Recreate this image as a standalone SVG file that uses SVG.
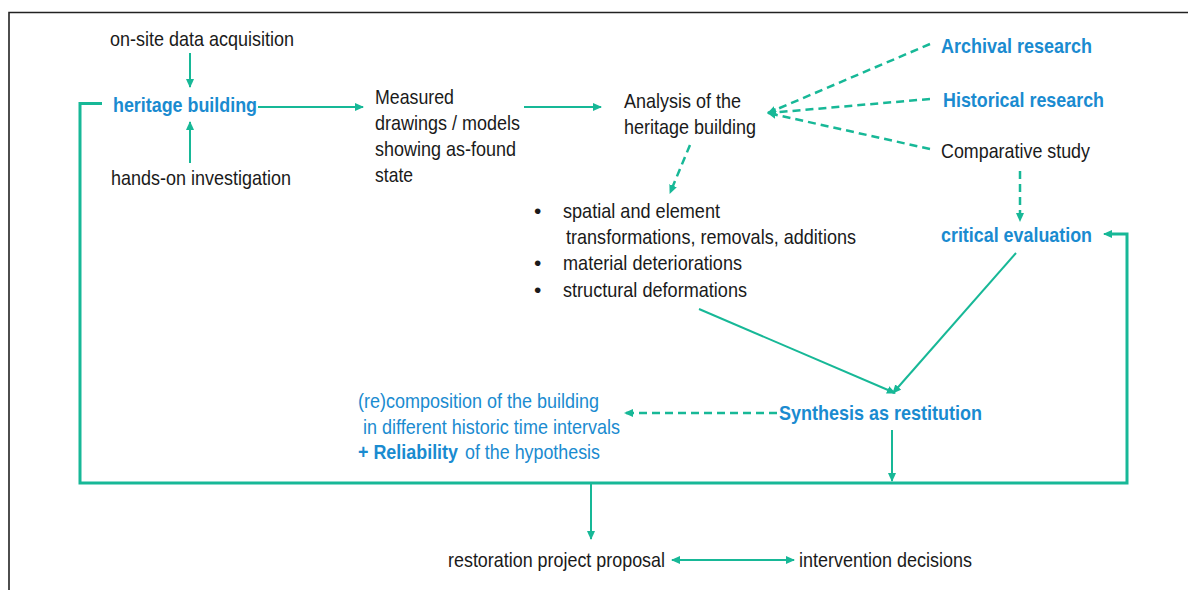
<svg xmlns="http://www.w3.org/2000/svg" width="1188" height="590" viewBox="0 0 1188 590">
<style>
text{font-family:"Liberation Sans",Arial,sans-serif;font-size:21px;fill:#1a1a1a}
.b{fill:#1a8bd0;font-weight:bold}
.bl{fill:#1a8bd0}
.c{fill:none;stroke:#17b897;stroke-width:2}
.d{fill:none;stroke:#17b897;stroke-width:2.5;stroke-dasharray:8 5}
.loop{fill:none;stroke:#17b897;stroke-width:3}
</style>
<defs>
<marker id="ah" markerWidth="9" markerHeight="8" refX="8" refY="4" orient="auto-start-reverse" markerUnits="userSpaceOnUse">
<path d="M0,0 L9,4 L0,8 z" fill="#17b897"/>
</marker>
</defs>
<rect width="1188" height="590" fill="#fff"/>
<path d="M9,590 V12.5 H1188" fill="none" stroke="#222" stroke-width="1.6"/>
<g id="connectors">
<line class="c" x1="190" y1="53" x2="190" y2="87" marker-end="url(#ah)"/>
<line class="c" x1="190" y1="163" x2="190" y2="122" marker-end="url(#ah)"/>
<line class="c" x1="258" y1="107" x2="363" y2="107" marker-end="url(#ah)"/>
<line class="c" x1="524" y1="107" x2="601" y2="107" marker-end="url(#ah)"/>
<line class="d" x1="690" y1="145" x2="670" y2="193" marker-end="url(#ah)"/>
<line class="d" x1="930" y1="44" x2="768" y2="113" marker-end="url(#ah)"/>
<line class="d" x1="930" y1="99" x2="768" y2="113" marker-end="url(#ah)"/>
<line class="d" x1="930" y1="149" x2="768" y2="113" marker-end="url(#ah)"/>
<line class="d" x1="1020" y1="171" x2="1020" y2="221" marker-end="url(#ah)"/>
<line class="c" x1="1016" y1="253" x2="893" y2="393" marker-end="url(#ah)"/>
<line class="c" x1="699" y1="309" x2="895" y2="393" marker-end="url(#ah)"/>
<line class="d" x1="777" y1="413" x2="625" y2="413" marker-end="url(#ah)"/>
<line class="c" x1="892" y1="430" x2="892" y2="481" marker-end="url(#ah)"/>
<path class="loop" d="M102,103.5 H80 V483 H1127 V234 H1112"/>
<line class="c" x1="1113" y1="234" x2="1104" y2="234" marker-end="url(#ah)"/>
<line class="c" x1="591" y1="484" x2="591" y2="539" marker-end="url(#ah)"/>
<line class="c" x1="672" y1="560" x2="794" y2="560" marker-start="url(#ah)" marker-end="url(#ah)"/>
</g>
<g id="onsite"><text x="110" y="46" textLength="184" lengthAdjust="spacingAndGlyphs">on-site data acquisition</text></g>
<g id="heritage"><text class="b" x="113" y="112" textLength="144" lengthAdjust="spacingAndGlyphs">heritage building</text></g>
<g id="handson"><text x="111" y="185" textLength="180" lengthAdjust="spacingAndGlyphs">hands-on investigation</text></g>
<g id="measured">
<text x="375" y="104" textLength="79" lengthAdjust="spacingAndGlyphs">Measured</text>
<text x="375" y="130" textLength="145" lengthAdjust="spacingAndGlyphs">drawings / models</text>
<text x="375" y="156" textLength="141" lengthAdjust="spacingAndGlyphs">showing as-found</text>
<text x="375" y="182" textLength="38" lengthAdjust="spacingAndGlyphs">state</text>
</g>
<g id="analysis">
<text x="624" y="108" textLength="117" lengthAdjust="spacingAndGlyphs">Analysis of the</text>
<text x="624" y="134" textLength="132" lengthAdjust="spacingAndGlyphs">heritage building</text>
</g>
<g id="archival"><text class="b" x="941" y="53" textLength="151" lengthAdjust="spacingAndGlyphs">Archival research</text></g>
<g id="historical"><text class="b" x="943" y="107" textLength="161" lengthAdjust="spacingAndGlyphs">Historical research</text></g>
<g id="comparative"><text x="941" y="158" textLength="149" lengthAdjust="spacingAndGlyphs">Comparative study</text></g>
<g id="findings">
<text x="534" y="218">•</text>
<text x="563" y="218" textLength="157" lengthAdjust="spacingAndGlyphs">spatial and element</text>
<text x="566" y="244" textLength="290" lengthAdjust="spacingAndGlyphs">transformations, removals, additions</text>
<text x="534" y="270">•</text>
<text x="563" y="270" textLength="179" lengthAdjust="spacingAndGlyphs">material deteriorations</text>
<text x="534" y="297">•</text>
<text x="563" y="297" textLength="184" lengthAdjust="spacingAndGlyphs">structural deformations</text>
</g>
<g id="critical"><text class="b" x="941" y="242" textLength="151" lengthAdjust="spacingAndGlyphs">critical evaluation</text></g>
<g id="synthesis"><text class="b" x="779" y="420" textLength="203" lengthAdjust="spacingAndGlyphs">Synthesis as restitution</text></g>
<g id="recomposition">
<text class="bl" x="358" y="408" textLength="241" lengthAdjust="spacingAndGlyphs">(re)composition of the building</text>
<text class="bl" x="363" y="434" textLength="257" lengthAdjust="spacingAndGlyphs">in different historic time intervals</text>
<text class="b" x="358" y="459" textLength="100" lengthAdjust="spacingAndGlyphs">+ Reliability</text>
<text class="bl" x="465" y="459" textLength="135" lengthAdjust="spacingAndGlyphs">of the hypothesis</text>
</g>
<g id="restoration"><text x="448" y="567" textLength="217" lengthAdjust="spacingAndGlyphs">restoration project proposal</text></g>
<g id="intervention"><text x="799" y="567" textLength="173" lengthAdjust="spacingAndGlyphs">intervention decisions</text></g>
</svg>
